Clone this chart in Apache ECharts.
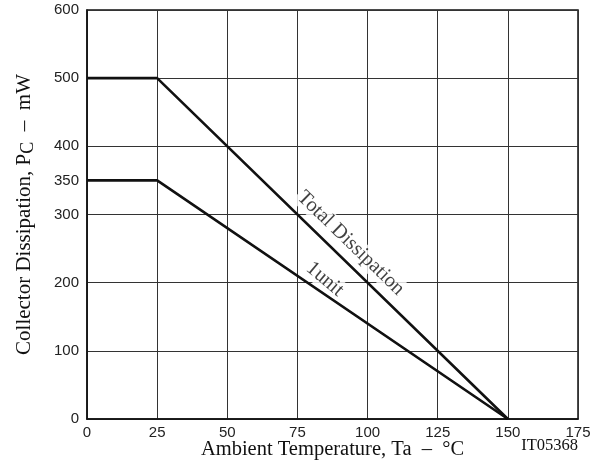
<!DOCTYPE html>
<html><head><meta charset="utf-8">
<script src="https://cdn.jsdelivr.net/npm/echarts@6/dist/echarts.min.js"></script>
<style>html,body{margin:0;padding:0;background:#fff}#c{width:607px;height:468px}</style>
</head><body><div id="c"></div>
<script>
const totalX = [0, 25, 150];
const totalY = [500, 500, 0];
const unitX = [0, 25, 150];
const unitY = [350, 350, 0];
const yLabelValues = [0, 100, 200, 300, 350, 400, 500, 600];
const annotations = [
  { text: 'Total Dissipation', x: 94, y: 258, rot: -44 },
  { text: '1unit', x: 84.8, y: 205, rot: -40 }
];

const chart = echarts.init(document.getElementById('c'));
const serif = '"Liberation Serif", "Times New Roman", serif';
const sans = '"Liberation Sans", Arial, sans-serif';
chart.setOption({
  animation: false,
  grid: { left: 87, right: 29, top: 10, bottom: 49, containLabel: false, outerBoundsMode: 'none', show: true, borderColor: '#111', borderWidth: 1.5, backgroundColor: 'transparent' },
  xAxis: {
    type: 'value', min: 0, max: 175, interval: 25,
    name: 'Ambient Temperature, Ta  –  °C', nameLocation: 'middle', nameGap: 20, nameMoveOverlap: false,
    nameTextStyle: { fontFamily: serif, fontSize: 20.5, color: '#111' },
    axisLine: { show: true, lineStyle: { color: '#111', width: 1.5 } },
    axisTick: { show: false },
    axisLabel: { fontFamily: sans, fontSize: 15, color: '#222', margin: 6 },
    splitLine: { show: true, lineStyle: { color: '#333', width: 1 } }
  },
  yAxis: {
    type: 'value', min: 0, max: 600, interval: 100,
    name: '{a|Collector Dissipation, P}{s|C}{a|  –  mW}', nameLocation: 'middle', nameGap: 50, nameMoveOverlap: false,
    nameTextStyle: { rich: {
      a: { fontFamily: serif, fontSize: 21, color: '#111' },
      s: { fontFamily: serif, fontSize: 18, color: '#111', padding: [7, 0, 0, 0] }
    } },
    axisLine: { show: true, lineStyle: { color: '#111', width: 1.5 } },
    axisTick: { show: false },
    axisLabel: { fontFamily: sans, fontSize: 15, color: '#222', margin: 8, customValues: yLabelValues },
    splitLine: { show: true, lineStyle: { color: '#333', width: 1 } }
  },
  graphic: [{
    type: 'text', right: 29, bottom: 14,
    style: { text: 'IT05368', font: '16.5px ' + serif, fill: '#111' }
  }],
  series: [
    { type: 'line', data: totalX.map((x, i) => [x, totalY[i]]), symbol: 'none', lineStyle: { color: '#111', width: 2.6 }, z: 3 },
    { type: 'line', data: unitX.map((x, i) => [x, unitY[i]]), symbol: 'none', lineStyle: { color: '#111', width: 2.6 }, z: 3 },
    { type: 'scatter', symbolSize: 0, silent: true, z: 2,
      data: annotations.map(a => ({ value: [a.x, a.y], label: { show: true, position: 'inside', formatter: a.text, rotate: a.rot, fontFamily: serif, fontSize: 20.5, color: '#111', backgroundColor: '#fff', padding: [0, 2] } }))
    }
  ]
});
</script></body></html>
